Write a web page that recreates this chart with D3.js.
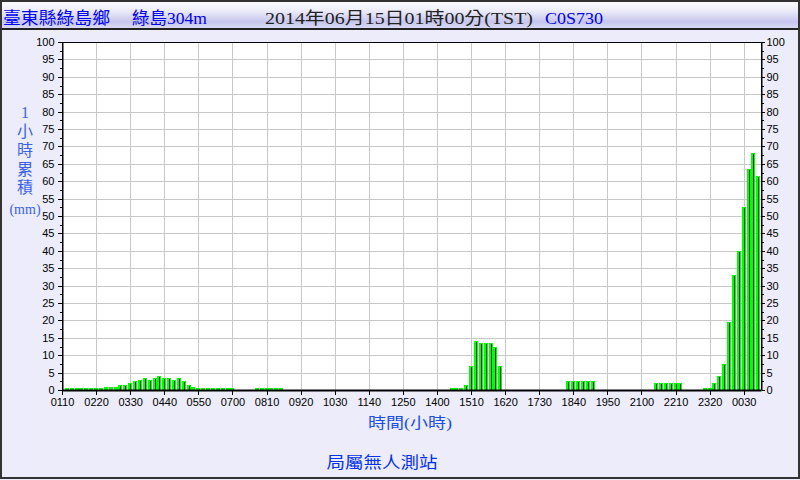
<!DOCTYPE html>
<html><head><meta charset="utf-8">
<script src="https://cdn.jsdelivr.net/npm/d3@7/dist/d3.min.js"></script>
<style>html,body{margin:0;padding:0;background:#ececfa;} svg{display:block}</style>
</head><body><svg id="c" width="800" height="480"></svg>
<script>
// ---- data ----
const times = [
"0110","0120","0130","0140","0150",
"0200","0210","0220","0230","0240","0250",
"0300","0310","0320","0330","0340","0350",
"0400","0410","0420","0430","0440","0450",
"0500","0510","0520","0530","0540","0550",
"0600","0610","0620","0630","0640","0650",
"0700","0710","0720","0730","0740","0750",
"0800","0810","0820","0830","0840","0850",
"0900","0910","0920","0930","0940","0950",
"1000","1010","1020","1030","1040","1050",
"1100","1110","1120","1130","1140","1150",
"1200","1210","1220","1230","1240","1250",
"1300","1310","1320","1330","1340","1350",
"1400","1410","1420","1430","1440","1450",
"1500","1510","1520","1530","1540","1550",
"1600","1610","1620","1630","1640","1650",
"1700","1710","1720","1730","1740","1750",
"1800","1810","1820","1830","1840","1850",
"1900","1910","1920","1930","1940","1950",
"2000","2010","2020","2030","2040","2050",
"2100","2110","2120","2130","2140","2150",
"2200","2210","2220","2230","2240","2250",
"2300","2310","2320","2330","2340","2350",
"0000","0010","0020","0030","0040","0050",
"0100"];
const rain1h = [
0,0.5,0.5,0.5,0.5,
0.5,0.5,0.5,0.5,1.0,1.0,
1.0,1.5,1.5,2.0,2.5,3.0,
3.5,3.0,3.5,4.0,3.5,3.5,
3.0,3.5,2.5,1.5,1.0,0.5,
0.5,0.5,0.5,0.5,0.5,0.5,
0.5,0,0,0,0,0.5,
0.5,0.5,0.5,0.5,0.5,0,
0,0,0,0,0,0,
0,0,0,0,0,0,
0,0,0,0,0,0,
0,0,0,0,0,0,
0,0,0,0,0,0,
0,0,0,0.5,0.5,0.5,
1.5,7.0,14.0,13.5,13.5,13.5,
12.5,7.0,0,0,0,0,
0,0,0,0,0,0,
0,0,0,2.5,2.5,2.5,
2.5,2.5,2.5,0,0,0,
0,0,0,0,0,0,
0,0,0,2.0,2.0,2.0,
2.0,2.0,2.0,0,0,0,
0,0.5,0.5,2.0,4.0,7.5,
19.5,33.0,40.0,52.5,63.5,68.0,
61.5];
const xTickLabels = ["0110","0220","0330","0440","0550","0700","0810","0920","1030","1140","1250","1400","1510","1620","1730","1840","1950","2100","2210","2320","0030"];
const yTickValues = [0,5,10,15,20,25,30,35,40,45,50,55,60,65,70,75,80,85,90,95,100];
const headerStation = "臺東縣綠島鄉";
const headerSite = "綠島304m";
const headerTime = "2014年06月15日01時00分(TST)";
const headerCode = "C0S730";
const xTitle = "時間(小時)";
const yTitleChars = ["1","小","時","累","積","(mm)"];
const footer = "局屬無人測站";

// ---- drawing ----
const svg = d3.select("#c");
const L = 62, R = 761, T = 42, B = 390;
const x = d3.scaleLinear().domain([0, 143.55]).range([L, R]);
const y = d3.scaleLinear().domain([0, 100]).range([B, T]);
const idx = t => times.indexOf(t);
const CJK = "'Liberation Serif','Noto Sans CJK TC','Noto Sans CJK SC',serif";
const SANS = "'Liberation Sans',Arial,sans-serif";

// background
svg.append("rect").attr("x",0).attr("y",0).attr("width",800).attr("height",480).attr("fill","#ececfa");

// header bar
const defs = svg.append("defs");
const g1 = defs.append("linearGradient").attr("id","hg").attr("x1",0).attr("y1",0).attr("x2",0).attr("y2",1);
g1.append("stop").attr("offset","0").attr("stop-color","#ffffff");
g1.append("stop").attr("offset","0.35").attr("stop-color","#eeeefa");
g1.append("stop").attr("offset","0.75").attr("stop-color","#c6c6ee");
g1.append("stop").attr("offset","1").attr("stop-color","#dcdcf6");
svg.append("rect").attr("x",0).attr("y",0).attr("width",800).attr("height",29).attr("fill","url(#hg)");
svg.append("line").attr("x1",0).attr("x2",800).attr("y1",29).attr("y2",29).attr("stroke","#222").attr("stroke-width",2);

svg.append("text").attr("x",3).attr("y",24).attr("font-family",CJK).attr("font-size",17)
  .attr("fill","#0000f0").attr("textLength",107).attr("lengthAdjust","spacingAndGlyphs").text(headerStation);
svg.append("text").attr("x",132).attr("y",24).attr("font-family",CJK).attr("font-size",17)
  .attr("fill","#0000f0").attr("textLength",75).attr("lengthAdjust","spacingAndGlyphs").text(headerSite);
svg.append("text").attr("x",265).attr("y",24).attr("font-family",CJK).attr("font-size",17)
  .attr("fill","#222").attr("textLength",268).attr("lengthAdjust","spacingAndGlyphs").text(headerTime);
svg.append("text").attr("x",545).attr("y",24).attr("font-family",CJK).attr("font-size",17)
  .attr("fill","#0000f0").attr("textLength",58).attr("lengthAdjust","spacingAndGlyphs").text(headerCode);

// plot area
svg.append("rect").attr("x",L).attr("y",T).attr("width",R-L).attr("height",B-T).attr("fill","#ffffff");

// grid
svg.append("g").selectAll("line").data(yTickValues.filter(v=>v>0 && v<100)).join("line")
  .attr("x1",L).attr("x2",R).attr("y1",d=>Math.round(y(d))+0.5).attr("y2",d=>Math.round(y(d))+0.5)
  .attr("stroke","#c8c8c8").attr("stroke-width",1);
svg.append("g").selectAll("line").data(xTickLabels.slice(1)).join("line")
  .attr("x1",d=>Math.round(x(idx(d)))+0.5).attr("x2",d=>Math.round(x(idx(d)))+0.5)
  .attr("y1",T).attr("y2",B).attr("stroke","#c8c8c8").attr("stroke-width",1);

// bars
const bars = svg.append("g");
rain1h.forEach((v,i)=>{
  if (v<=0) return;
  const cx = x(i), bx = Math.round(cx-2), by = Math.round(y(v)), h = B - by;
  bars.append("rect").attr("x",bx).attr("y",by).attr("width",4).attr("height",h).attr("fill","#00ff00");
  if (h > 3) {
    bars.append("rect").attr("x",bx+2).attr("y",by+1).attr("width",1).attr("height",h-1).attr("fill","#003300");
  }
});

// frame
svg.append("line").attr("x1",L).attr("x2",R).attr("y1",T+0.5).attr("y2",T+0.5).attr("stroke","#000");
svg.append("line").attr("x1",L+0.5).attr("x2",L+0.5).attr("y1",T).attr("y2",B).attr("stroke","#000");
svg.append("line").attr("x1",R+0.5).attr("x2",R+0.5).attr("y1",T).attr("y2",B).attr("stroke","#000");

// axes
const yMinor = d3.range(2.5, 100, 5);
const leftAxis = svg.append("g").attr("transform",`translate(${L+0.5},0)`)
  .call(d3.axisLeft(y).tickValues(yTickValues).tickSize(5).tickSizeOuter(0).tickPadding(3).tickFormat(d3.format("d")));
const rightAxis = svg.append("g").attr("transform",`translate(${R+0.5},0)`)
  .call(d3.axisRight(y).tickValues(yTickValues).tickSize(3).tickSizeOuter(0).tickPadding(2).tickFormat(d3.format("d")));
svg.append("g").attr("transform",`translate(${L+0.5},0)`)
  .call(d3.axisLeft(y).tickValues(yMinor).tickSize(3).tickFormat(""))
  .call(g=>g.select(".domain").remove());
svg.append("g").attr("transform",`translate(${R+0.5},0)`)
  .call(d3.axisRight(y).tickValues(yMinor).tickSize(2).tickFormat(""))
  .call(g=>g.select(".domain").remove());
const bottomAxis = svg.append("g").attr("transform",`translate(0,${B})`)
  .call(d3.axisBottom(x).tickValues(xTickLabels.map(idx)).tickSize(5).tickSizeOuter(0).tickPadding(3)
    .tickFormat(d=>times[d]));
[leftAxis,rightAxis,bottomAxis].forEach(g=>{
  g.selectAll("text").attr("font-family",SANS).attr("font-size",11).attr("fill","#000");
  g.selectAll("line").attr("stroke","#000");
  g.select(".domain").attr("stroke","#000");
});
bottomAxis.select(".domain").attr("stroke-width",2);
svg.selectAll(".tick line").attr("shape-rendering","crispEdges");

// axis titles
svg.append("text").attr("x",368).attr("y",428).attr("font-family",CJK)
  .attr("font-size",15).attr("fill","#1a4fe8").attr("textLength",84).attr("lengthAdjust","spacingAndGlyphs").text(xTitle);
const yt = svg.append("text").attr("font-family",CJK).attr("font-size",16).attr("fill","#3a62e8").attr("text-anchor","middle");
const yPos = [118,137,156,175,193,214];
yTitleChars.forEach((c,k)=>{
  yt.append("tspan").attr("x",25).attr("y",yPos[k]).attr("font-size", k===5?14:16).text(c);
});

// footer
svg.append("text").attr("x",382).attr("y",468).attr("text-anchor","middle").attr("font-family",CJK)
  .attr("font-size",16).attr("fill","#0030f0").attr("textLength",111).attr("lengthAdjust","spacingAndGlyphs").text(footer);

// outer border
svg.append("rect").attr("x",1).attr("y",1).attr("width",798).attr("height",477).attr("fill","none")
  .attr("stroke","#333").attr("stroke-width",2);
</script></body></html>
